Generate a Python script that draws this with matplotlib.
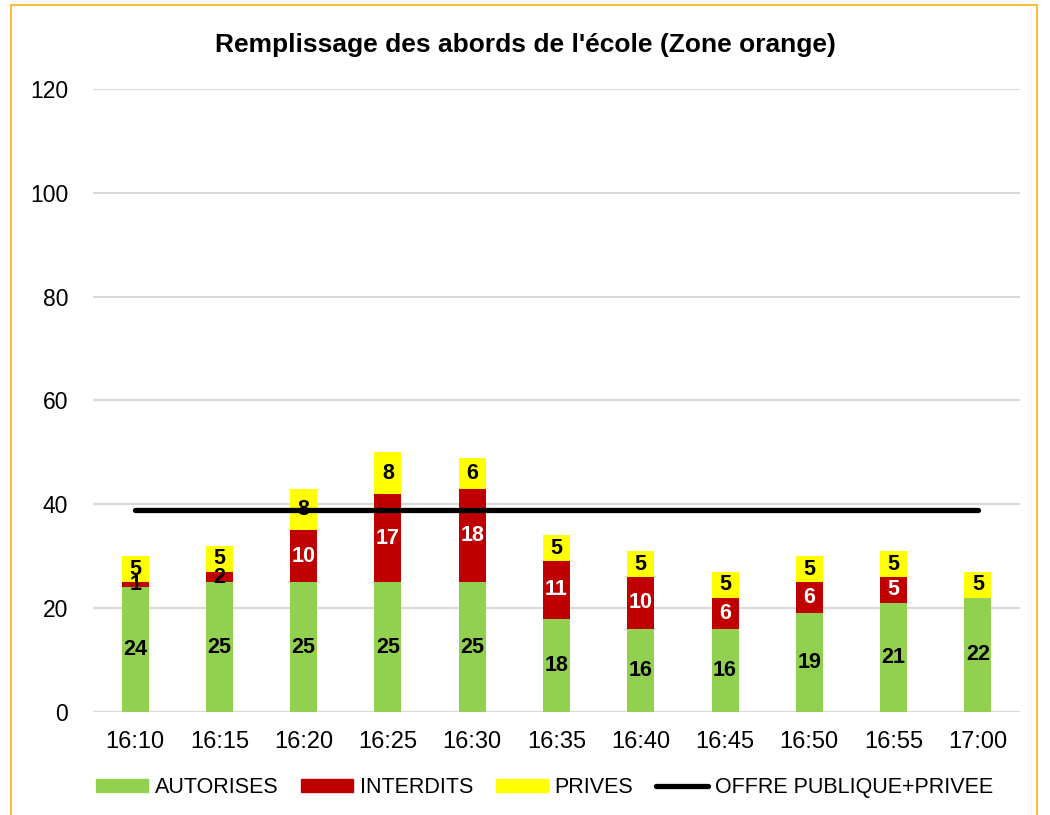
import numpy as np
import matplotlib
matplotlib.use('Agg')
import matplotlib.pyplot as plt
from matplotlib.patches import Patch, Rectangle
from matplotlib.lines import Line2D

plt.rcParams['font.family'] = ['Liberation Sans', 'DejaVu Sans']

# counts per time slot
times = ['16:10', '16:15', '16:20', '16:25', '16:30', '16:35',
         '16:40', '16:45', '16:50', '16:55', '17:00']
autorises = [24, 25, 25, 25, 25, 18, 16, 16, 19, 21, 22]
interdits = [1, 2, 10, 17, 18, 11, 10, 6, 6, 5, 0]
prives = [5, 5, 8, 8, 6, 5, 5, 5, 5, 5, 5]
offre = [39] * len(times)

c_green = '#92D050'
c_red = '#C00000'
c_yellow = '#FFFF00'

fig = plt.figure(figsize=(10.5, 8.15), dpi=100)
ax = fig.add_axes([0.0886, 0.1264, 0.8828, 0.7644])

x = np.arange(len(times))
w = 0.32
a = np.array(autorises)
i = np.array(interdits)
p = np.array(prives)

ax.bar(x, a, w, color=c_green, zorder=2)
ax.bar(x, i, w, bottom=a, color=c_red, zorder=2)
ax.bar(x, p, w, bottom=a + i, color=c_yellow, zorder=2)
ax.plot(x, offre, color='black', lw=3.8, solid_capstyle='round', zorder=3)

# value labels centred in each segment
lbl = dict(ha='center', va='center', fontsize=15.5, fontweight='bold', zorder=4)
for k in range(len(x)):
    ax.text(x[k], a[k] / 2, str(a[k]), color='black', **lbl)
    if i[k] > 0:
        col = 'white' if i[k] >= 5 else 'black'
        ax.text(x[k], a[k] + i[k] / 2, str(i[k]), color=col, **lbl)
    ax.text(x[k], a[k] + i[k] + p[k] / 2, str(p[k]), color='black', **lbl)

ax.set_xlim(-0.5, len(times) - 0.5)
ax.set_ylim(0, 120)
ax.set_yticks(range(0, 121, 20))
ax.set_xticks(x)
ax.set_xticklabels(times)
ax.tick_params(axis='both', length=0, labelsize=16.5)
ax.tick_params(axis='x', labelsize=17, pad=14)
ax.tick_params(axis='y', pad=18)
ax.yaxis.grid(True, color='#D9D9D9', lw=1.5, zorder=0)
ax.set_axisbelow(True)
for s in ax.spines.values():
    s.set_visible(False)

fig.text(0.5, 0.945, "Remplissage des abords de l'école (Zone orange)",
         ha='center', va='center', fontsize=19, fontweight='bold')

handles = [Patch(color=c_green, label='AUTORISES'),
           Patch(color=c_red, label='INTERDITS'),
           Patch(color=c_yellow, label='PRIVES'),
           Line2D([], [], color='black', lw=3.8, solid_capstyle='round',
                  label='OFFRE PUBLIQUE+PRIVEE')]
fig.legend(handles=handles, loc='center', bbox_to_anchor=(0.5185, 0.034),
           ncol=4, frameon=False, fontsize=15.5, handlelength=2.4,
           handleheight=0.55, handletextpad=0.33, columnspacing=1.05)

# outer frame
fig.patches.append(Rectangle((0.0105, -0.05), 0.977, 1.044, transform=fig.transFigure,
                             fill=False, edgecolor='#F5C033', lw=1.5))

fig.savefig('out.png', dpi=100)
